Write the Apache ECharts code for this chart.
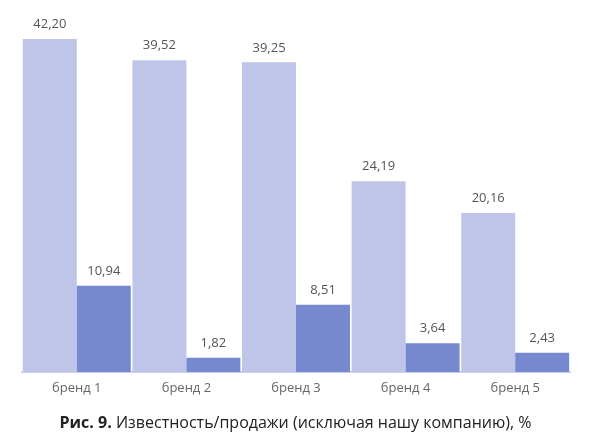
<!DOCTYPE html>
<html>
<head>
<meta charset="utf-8">
<script src="https://cdn.jsdelivr.net/npm/echarts@6/dist/echarts.min.js"></script>
<style>
  html, body { margin: 0; padding: 0; background: #fff; }
  #chart { width: 591px; height: 437px; }
</style>
</head>
<body>
<div id="chart"></div>
<script>
  const brands = ['бренд 1', 'бренд 2', 'бренд 3', 'бренд 4', 'бренд 5'];
  const awareness = [42.20, 39.52, 39.25, 24.19, 20.16];
  const sales = [10.94, 1.82, 8.51, 3.64, 2.43];

  const chart = echarts.init(document.getElementById('chart'));

  const labelFmt = p => p.value.toFixed(2).replace('.', ',');

  const option = {
    animation: false,
    textStyle: { fontFamily: 'Open Sans' },
    title: {
      text: '{b|Рис. 9.} Известность/продажи (исключая нашу компанию), %',
      left: 'center',
      top: 410,
      textStyle: {
        fontSize: 16,
        fontWeight: 'normal',
        color: '#222',
        rich: {
          b: { fontSize: 16, fontWeight: 'bold', color: '#222' }
        }
      }
    },
    grid: { left: 22, right: 21, top: 17, bottom: 65 },
    xAxis: {
      type: 'category',
      data: brands,
      axisTick: { show: false },
      axisLine: { lineStyle: { color: '#c9cfee', width: 2 } },
      axisLabel: { color: '#666', fontSize: 13, margin: 10 }
    },
    yAxis: {
      type: 'value',
      min: 0,
      max: 45,
      show: false,
      splitLine: { show: false }
    },
    series: [
      {
        type: 'bar',
        data: awareness,
        barGap: '0%',
        barCategoryGap: '1.5%',
        itemStyle: { color: '#bec5e9' },
        label: { show: true, position: 'top', distance: 8, color: '#555', fontSize: 13, formatter: labelFmt }
      },
      {
        type: 'bar',
        data: sales,
        itemStyle: { color: '#7689cf' },
        label: { show: true, position: 'top', distance: 8, color: '#555', fontSize: 13, formatter: labelFmt }
      }
    ]
  };

  chart.setOption(option);
</script>
</body>
</html>
